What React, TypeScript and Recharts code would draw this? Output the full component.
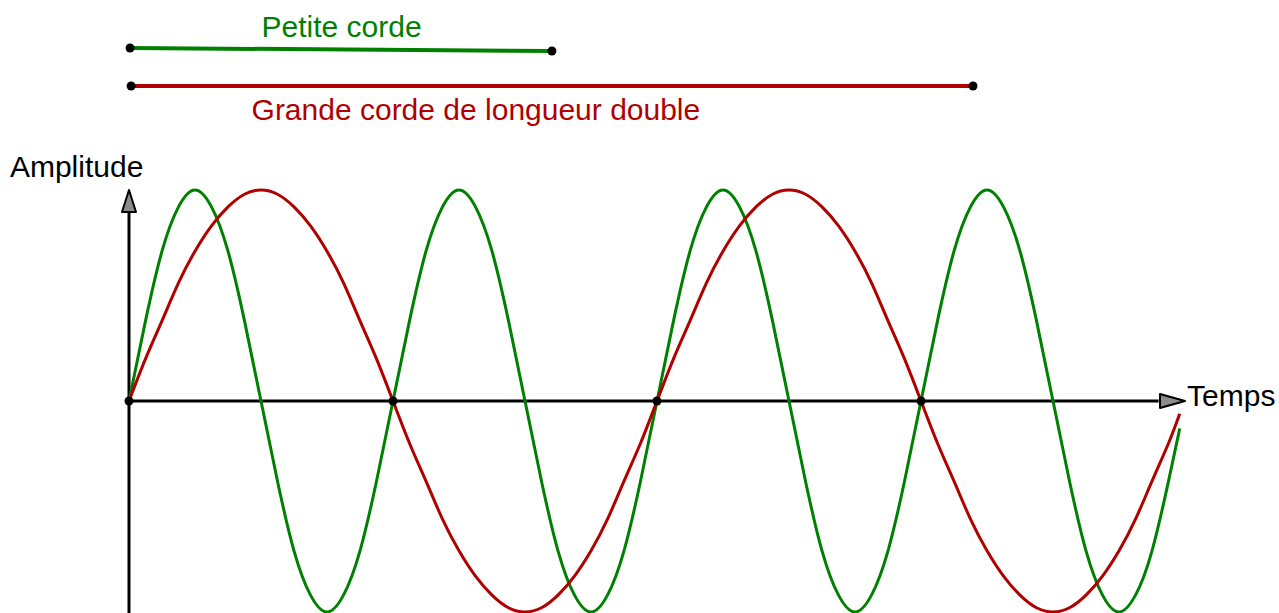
import { LineChart, Line, XAxis, YAxis, ReferenceLine, ReferenceDot } from 'recharts';

// time in periods of the short string (green)
const TIME = [
  0, 0.0625, 0.125, 0.1875, 0.25, 0.3125, 0.375, 0.4375, 0.5, 0.5625, 0.625, 0.6875, 0.75, 0.8125, 0.875, 0.9375,
  1, 1.0625, 1.125, 1.1875, 1.25, 1.3125, 1.375, 1.4375, 1.5, 1.5625, 1.625, 1.6875, 1.75, 1.8125, 1.875, 1.9375,
  2, 2.0625, 2.125, 2.1875, 2.25, 2.3125, 2.375, 2.4375, 2.5, 2.5625, 2.625, 2.6875, 2.75, 2.8125, 2.875, 2.9375,
  3, 3.0625, 3.125, 3.1875, 3.25, 3.3125, 3.375, 3.4375, 3.5, 3.5625, 3.625, 3.6875, 3.75, 3.8125, 3.875, 3.9375,
  3.98,
];

const PETITE = [
  0, 0.38, 0.71, 0.92, 1, 0.92, 0.71, 0.38, 0, -0.38, -0.71, -0.92, -1, -0.92, -0.71, -0.38,
  0, 0.38, 0.71, 0.92, 1, 0.92, 0.71, 0.38, 0, -0.38, -0.71, -0.92, -1, -0.92, -0.71, -0.38,
  0, 0.38, 0.71, 0.92, 1, 0.92, 0.71, 0.38, 0, -0.38, -0.71, -0.92, -1, -0.92, -0.71, -0.38,
  0, 0.38, 0.71, 0.92, 1, 0.92, 0.71, 0.38, 0, -0.38, -0.71, -0.92, -1, -0.92, -0.71, -0.38,
  -0.13,
];

const GRANDE = [
  0, 0.2, 0.38, 0.56, 0.71, 0.83, 0.92, 0.98, 1, 0.98, 0.92, 0.83, 0.71, 0.56, 0.38, 0.2,
  0, -0.2, -0.38, -0.56, -0.71, -0.83, -0.92, -0.98, -1, -0.98, -0.92, -0.83, -0.71, -0.56, -0.38, -0.2,
  0, 0.2, 0.38, 0.56, 0.71, 0.83, 0.92, 0.98, 1, 0.98, 0.92, 0.83, 0.71, 0.56, 0.38, 0.2,
  0, -0.2, -0.38, -0.56, -0.71, -0.83, -0.92, -0.98, -1, -0.98, -0.92, -0.83, -0.71, -0.56, -0.38, -0.2,
  -0.06,
];

// common zeros of both strings
const NODES = [0, 1, 2, 3];

const GREEN = '#008000';
const RED = '#b00000';
const FONT = '"Liberation Sans", Arial, sans-serif';

const data = TIME.map((t, i) => ({ t, petite: PETITE[i], grande: GRANDE[i] }));

const textShape = (label: string, color: string, anchor: 'start' | 'middle') => (p: any) => (
  <text x={p.cx} y={p.cy} fill={color} fontSize={30} fontFamily={FONT} textAnchor={anchor}>
    {label}
  </text>
);

const arrowUp = (p: any) => (
  <polygon
    points={`${p.cx},${p.cy} ${p.cx - 7},${p.cy + 22} ${p.cx + 7},${p.cy + 22}`}
    fill="#8c8c8c"
    stroke="#000"
    strokeWidth={2}
    strokeLinejoin="round"
  />
);

const arrowRight = (p: any) => (
  <polygon
    points={`${p.cx},${p.cy} ${p.cx - 25},${p.cy - 7} ${p.cx - 25},${p.cy + 7}`}
    fill="#8c8c8c"
    stroke="#000"
    strokeWidth={2}
    strokeLinejoin="round"
  />
);

const dotShape = (p: any) => <circle cx={p.cx} cy={p.cy} r={4.5} fill="#000" />;

// black dots where both strings cross zero together
const nodeDot = (p: any) =>
  NODES.includes(p.payload.t) ? (
    <circle key={p.index} cx={p.cx} cy={p.cy} r={4.5} fill="#000" />
  ) : (
    <g key={p.index} />
  );

export default function App() {
  return (
    <div style={{ position: 'absolute', left: 0, top: 0, background: '#fff' }}>
      <LineChart width={1279} height={613} data={data} margin={{ top: 0, right: 0, bottom: 0, left: 0 }}>
        <XAxis dataKey="t" type="number" domain={[-0.4886, 4.356]} hide allowDataOverflow />
        <YAxis type="number" domain={[-1.0047, 1.9005]} hide allowDataOverflow />

        {/* axes */}
        <ReferenceLine segment={[{ x: 0, y: 0 }, { x: 3.9, y: 0 }]} stroke="#000" strokeWidth={3} ifOverflow="visible" />
        <ReferenceLine segment={[{ x: 0, y: -1.0047 }, { x: 0, y: 0.9 }]} stroke="#000" strokeWidth={3} ifOverflow="visible" />
        <ReferenceDot x={0} y={1.0} r={1} shape={arrowUp} ifOverflow="visible" />
        <ReferenceDot x={4.0} y={0} r={1} shape={arrowRight} ifOverflow="visible" />
        <ReferenceDot x={-0.451} y={1.0616} r={1} shape={textShape('Amplitude', '#000', 'start')} ifOverflow="visible" />
        <ReferenceDot x={4.0076} y={-0.0237} r={1} shape={textShape('Temps', '#000', 'start')} ifOverflow="visible" />

        {/* string lengths */}
        <ReferenceLine segment={[{ x: 0.004, y: 1.673 }, { x: 1.602, y: 1.659 }]} stroke={GREEN} strokeWidth={4} ifOverflow="visible" />
        <ReferenceLine segment={[{ x: 0.008, y: 1.493 }, { x: 3.197, y: 1.493 }]} stroke={RED} strokeWidth={4} ifOverflow="visible" />
        <ReferenceDot x={0.004} y={1.673} r={4.5} shape={dotShape} ifOverflow="visible" />
        <ReferenceDot x={1.602} y={1.659} r={4.5} shape={dotShape} ifOverflow="visible" />
        <ReferenceDot x={0.008} y={1.493} r={4.5} shape={dotShape} ifOverflow="visible" />
        <ReferenceDot x={3.197} y={1.493} r={4.5} shape={dotShape} ifOverflow="visible" />
        <ReferenceDot x={0.805} y={1.725} r={1} shape={textShape('Petite corde', GREEN, 'middle')} ifOverflow="visible" />
        <ReferenceDot x={1.314} y={1.332} r={1} shape={textShape('Grande corde de longueur double', RED, 'middle')} ifOverflow="visible" />

        <Line type="natural" dataKey="petite" stroke={GREEN} strokeWidth={3} dot={false} activeDot={false} isAnimationActive={false} />
        <Line type="natural" dataKey="grande" stroke={RED} strokeWidth={3} dot={false} activeDot={false} isAnimationActive={false} />
        <Line type="natural" dataKey="grande" stroke="none" dot={nodeDot} activeDot={false} isAnimationActive={false} />
      </LineChart>
    </div>
  );
}
